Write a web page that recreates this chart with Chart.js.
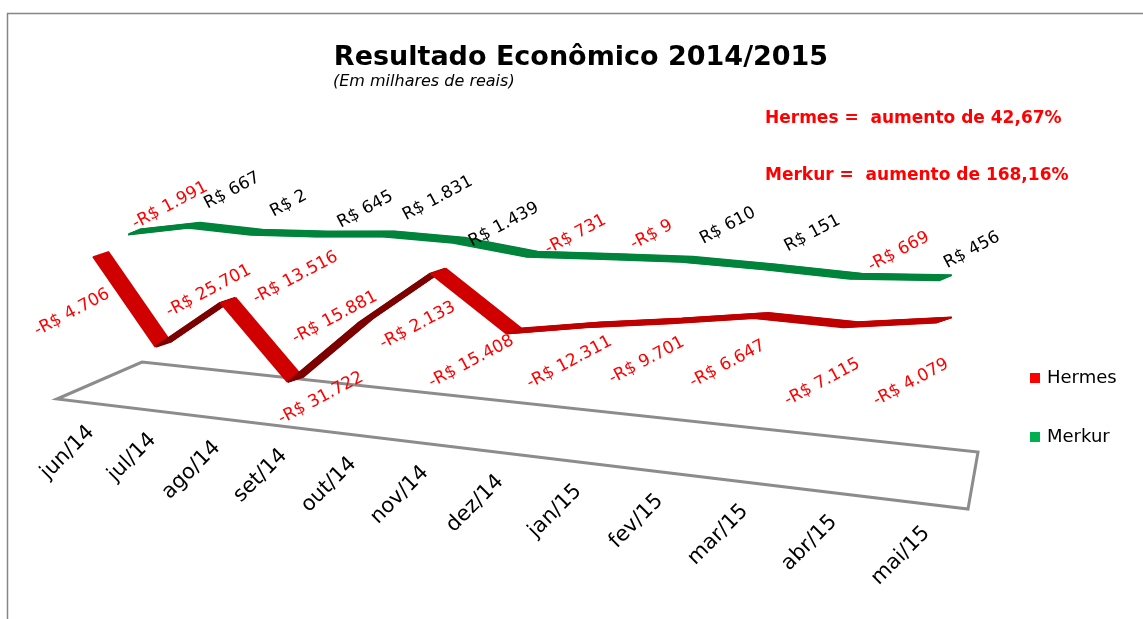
<!DOCTYPE html>
<html lang="pt-BR">
<head>
<meta charset="utf-8">
<title>Resultado Econômico 2014/2015</title>
<script src="https://cdn.jsdelivr.net/npm/chart.js@4.4.1/dist/chart.umd.min.js"></script>
<style>
  html, body { margin: 0; padding: 0; background: #fff; }
  canvas { display: block; }
</style>
</head>
<body>
<canvas id="grafico" width="1143" height="619"></canvas>
<script>
const meses = ["jun/14", "jul/14", "ago/14", "set/14", "out/14", "nov/14", "dez/14", "jan/15", "fev/15", "mar/15", "abr/15", "mai/15"];
// valores em milhares de reais
const hermes = [-4706, -25701, -13516, -31722, -15881, -2133, -15408, -12311, -9701, -6647, -7115, -4079];
const merkur = [-1991, 667, 2, 645, 1831, 1439, -731, -9, 610, 151, -669, 456];

const titulo = "Resultado Econômico 2014/2015";
const subtitulo = "(Em milhares de reais)";
const notas = ["Hermes =  aumento de 42,67%", "Merkur =  aumento de 168,16%"];

// where each value label sits, relative to its point (px)
const hermesLabelPos = [[-21, 56], [53, -56], [75, -25], [33, 16], [-23, -6], [-13, 52], [-35, 28], [-16, 35], [-21, 37], [-26, 46], [-21, 55], [-26, 60]];
const merkurLabelPos = [[42, -29], [44, -37], [38, -31], [50, -27], [55, -38], [51, -18], [50, -22], [50, -24], [47, -36], [49, -36], [49, -27], [32, -30]];

const FONT = "'DejaVu Sans', sans-serif";

const fmt = (v) => (v < 0 ? "-R$ " : "R$ ") + String(Math.abs(v)).replace(/\B(?=(\d{3})+(?!\d))/g, ".");

// fake excel 3D look: perspective on x, skew on y, back series pushed in depth
const view = {
  persp: 0.2,
  depth: [
    { dx: 0, dy: 0, scale: 1, skew: 0.0812, ribbon: [15, -5] },
    { dx: 35, dy: -11, scale: 0.962, skew: 0.0687, ribbon: [12, -5] },
  ],
};

const warpX = (area, px) => {
  const w = area.right - area.left;
  const t = (px - area.left) / w;
  return area.left + (w * (1 - view.persp) * t) / (1 - view.persp * t);
};

const floorFront = (a, x) => {
  const x0 = a.left - 36;
  const slope = 110 / (a.right + 31 - x0);
  return a.bottom - 1 + slope * (x - x0);
};

const text = (ctx, str, x, y, font, color, align = "left", angle = 0, baseline = "alphabetic") => {
  ctx.save();
  ctx.translate(x, y);
  ctx.rotate(angle);
  ctx.font = font;
  ctx.fillStyle = color;
  ctx.textAlign = align;
  ctx.textBaseline = baseline;
  ctx.fillText(str, 0, 0);
  ctx.restore();
};

const hermesColor = (c) => {
  const diff = c.p1.parsed.y - c.p0.parsed.y;
  if (diff > 5000) return "#7d0000";
  if (diff < -5000) return "#d00000";
  return "#bf0000";
};

const perspectiva = {
  id: "perspectiva",
  afterDatasetsUpdate(chart) {
    const a = chart.chartArea;
    chart.data.datasets.forEach((ds, i) => {
      const d = view.depth[i];
      chart.getDatasetMeta(i).data.forEach((pt) => {
        const x = a.left + d.dx + d.scale * (warpX(a, pt.x) - a.left);
        pt.y = pt.y + d.dy + d.skew * (x - a.left - d.dx);
        pt.x = x;
      });
    });
  },
  beforeDatasetsDraw(chart) {
    const { ctx, chartArea: a } = chart;
    // floor of the 3D box
    ctx.save();
    ctx.beginPath();
    ctx.moveTo(a.left - 36, a.bottom - 1);
    ctx.lineTo(a.left + 49, a.bottom - 38);
    ctx.lineTo(a.right + 41, a.bottom + 52);
    ctx.lineTo(a.right + 31, a.bottom + 109);
    ctx.closePath();
    ctx.strokeStyle = "#8c8c8c";
    ctx.lineWidth = 3;
    ctx.lineJoin = "miter";
    ctx.stroke();
    ctx.restore();
  },
  beforeDatasetDraw(chart, args) {
    // sweep the line along the depth vector so it looks like a ribbon
    const [rx, ry] = view.depth[args.index].ribbon;
    const ctx = chart.ctx;
    const n = args.meta.data.length;
    const steps = Math.max(Math.abs(rx), Math.abs(ry));
    for (let s = steps; s > 0; s--) {
      ctx.save();
      ctx.translate((rx * s) / steps, (ry * s) / steps);
      args.meta.dataset.draw(ctx, chart.chartArea, 0, n);
      ctx.restore();
    }
  },
  afterDatasetsDraw(chart) {
    const ctx = chart.ctx;
    const angle = (-28 * Math.PI) / 180;
    [hermesLabelPos, merkurLabelPos].forEach((pos, i) => {
      const values = chart.data.datasets[i].data;
      chart.getDatasetMeta(i).data.forEach((pt, j) => {
        const v = values[j];
        text(ctx, fmt(v), pt.x + pos[j][0], pt.y + pos[j][1], "17px " + FONT,
          v < 0 ? "#ff0000" : "#000000", "center", angle, "middle");
      });
    });
  },
  afterDraw(chart) {
    const { ctx, chartArea: a } = chart;
    const xScale = chart.scales.x;

    // outer frame (only top and left show in the crop)
    ctx.save();
    ctx.strokeStyle = "#868686";
    ctx.lineWidth = 1.5;
    ctx.beginPath();
    ctx.moveTo(7.5, chart.height);
    ctx.lineTo(7.5, 13.5);
    ctx.lineTo(chart.width, 13.5);
    ctx.stroke();
    ctx.restore();

    text(ctx, titulo, 581, 65, "bold 27px " + FONT, "#000", "center");
    text(ctx, subtitulo, 333, 86, "italic 16px " + FONT, "#000");
    text(ctx, notas[0], 765, 123, "bold 17px " + FONT, "#ff0000");
    text(ctx, notas[1], 765, 180, "bold 17px " + FONT, "#ff0000");

    // category labels along the front edge of the floor
    meses.forEach((m, i) => {
      const x = warpX(a, xScale.getPixelForValue(i));
      const ax = x - 2 - 0.01 * (x - a.left);
      const ay = floorFront(a, ax) + 26;
      text(ctx, m, ax, ay, "21px " + FONT, "#000", "right", -Math.PI / 4, "middle");
    });

    // legend
    chart.data.datasets.forEach((ds, i) => {
      const y = 378 + i * 59;
      ctx.fillStyle = ds.backgroundColor;
      ctx.fillRect(1030, y - 5, 10, 10);
      text(ctx, ds.label, 1047, y, "18px " + FONT, "#000", "left", 0, "middle");
    });
  },
};

new Chart(document.getElementById("grafico"), {
  type: "line",
  data: {
    labels: meses,
    datasets: [
      {
        label: "Hermes",
        data: hermes,
        borderColor: "#c00000",
        backgroundColor: "#ff0000",
        borderWidth: 2,
        pointRadius: 0,
        tension: 0,
        clip: false,
        borderJoinStyle: "bevel",
        segment: { borderColor: hermesColor },
      },
      {
        label: "Merkur",
        data: merkur,
        borderColor: "#00843c",
        backgroundColor: "#00b050",
        borderWidth: 2,
        pointRadius: 0,
        tension: 0,
        clip: false,
        borderJoinStyle: "bevel",
      },
    ],
  },
  options: {
    responsive: false,
    animation: false,
    events: [],
    layout: { padding: { left: 93, right: 206, top: 217, bottom: 219 } },
    plugins: {
      legend: { display: false },
      title: { display: false },
      tooltip: { enabled: false },
    },
    scales: {
      x: { type: "category", display: false, offset: false },
      y: { display: false, min: -40000, max: 5000 },
    },
  },
  plugins: [perspectiva],
});
</script>
</body>
</html>
